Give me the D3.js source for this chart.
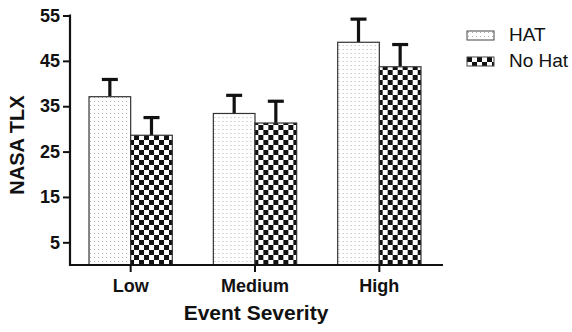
<!DOCTYPE html>
<html><head><meta charset="utf-8">
<script src="https://cdn.jsdelivr.net/npm/d3@7"></script>
<style>body{margin:0;background:#fff}svg{display:block}</style>
</head><body>
<svg id="c" width="572" height="332"></svg>
<script>
const categories = ["Low", "Medium", "High"];
const series = ["HAT", "No Hat"];
const hatValues = [37.1, 33.4, 49.1];
const hatErrors = [3.8, 4.0, 5.1];
const noHatValues = [28.6, 31.3, 43.7];
const noHatErrors = [3.9, 4.8, 4.9];
const yTicks = [5, 15, 25, 35, 45, 55];

const svg = d3.select("#c");
const defs = svg.append("defs");
const dots = defs.append("pattern").attr("id","dots").attr("patternUnits","userSpaceOnUse")
  .attr("width",4).attr("height",4);
dots.append("rect").attr("width",4).attr("height",4).attr("fill","#fff");
dots.append("rect").attr("x",1).attr("y",1).attr("width",1).attr("height",1).attr("fill","#b0b0b0");
const chk = defs.append("pattern").attr("id","chk").attr("patternUnits","userSpaceOnUse")
  .attr("width",10).attr("height",10);
chk.append("rect").attr("width",10).attr("height",10).attr("fill","#fff");
chk.append("rect").attr("width",5).attr("height",5).attr("fill","#111");
chk.append("rect").attr("x",5).attr("y",5).attr("width",5).attr("height",5).attr("fill","#111");

const fills = {"HAT":"url(#dots)","No Hat":"url(#chk)"};
const data = categories.map((c,i)=>({cat:c, vals:[
  {s:"HAT", v:hatValues[i], e:hatErrors[i]},
  {s:"No Hat", v:noHatValues[i], e:noHatErrors[i]}]}));

const FONT = "Liberation Sans, Arial, sans-serif";
const axisX = 70, baseY = 265;
const y = d3.scaleLinear().domain([0,55]).range([265,15.5]);
const x0 = d3.scaleBand().domain(categories).range([68.5,441.5]).paddingInner(0.33).paddingOuter(0.165);
const x1 = d3.scaleBand().domain(series).range([0,x0.bandwidth()]);

const g = svg.append("g");
const groups = g.selectAll("g.grp").data(data).join("g").attr("transform",d=>`translate(${x0(d.cat)},0)`);
groups.selectAll("g.err").data(d=>d.vals).join("g").each(function(d){
  const cx = x1(d.s)+x1.bandwidth()/2;
  const s = d3.select(this);
  s.append("line").attr("x1",cx).attr("x2",cx).attr("y1",y(d.v)).attr("y2",y(d.v+d.e))
    .attr("stroke","#111").attr("stroke-width",3.2);
  s.append("line").attr("x1",cx-8).attr("x2",cx+8).attr("y1",y(d.v+d.e)).attr("y2",y(d.v+d.e))
    .attr("stroke","#111").attr("stroke-width",3.2);
});
groups.selectAll("rect").data(d=>d.vals).join("rect")
  .attr("x",d=>x1(d.s)).attr("width",x1.bandwidth())
  .attr("y",d=>y(d.v)).attr("height",d=>y(0)-y(d.v))
  .attr("fill",d=>fills[d.s]).attr("stroke","#333").attr("stroke-width",1.2);

const ya = svg.append("g").attr("transform",`translate(${axisX},0)`)
  .call(d3.axisLeft(y).tickValues(yTicks).tickSize(7).tickPadding(3).tickSizeOuter(0));
ya.select(".domain").remove();
ya.selectAll(".tick line").attr("stroke","#111").attr("stroke-width",2);
ya.selectAll("text").attr("font-family",FONT).attr("font-weight","bold")
  .attr("font-size",18).attr("fill","#111");
svg.append("line").attr("x1",axisX).attr("x2",axisX).attr("y1",14.5).attr("y2",baseY+1)
  .attr("stroke","#111").attr("stroke-width",2.2);

const xa = svg.append("g").attr("transform",`translate(0,${baseY})`)
  .call(d3.axisBottom(x0).tickSize(7).tickPadding(7));
xa.select(".domain").remove();
xa.selectAll(".tick line").attr("stroke","#111").attr("stroke-width",2);
xa.selectAll("text").attr("font-family",FONT).attr("font-weight","bold")
  .attr("font-size",18).attr("fill","#111");
svg.append("line").attr("x1",axisX-1).attr("x2",443).attr("y1",baseY).attr("y2",baseY)
  .attr("stroke","#111").attr("stroke-width",2.2);

svg.append("text").attr("x",256).attr("y",320).attr("text-anchor","middle")
  .attr("font-family",FONT).attr("font-weight","bold")
  .attr("font-size",21).attr("fill","#111").text("Event Severity");
svg.append("text").attr("transform","translate(24,145) rotate(-90)").attr("text-anchor","middle")
  .attr("font-family",FONT).attr("font-weight","bold")
  .attr("font-size",20).attr("fill","#111").text("NASA TLX");

const lg = svg.append("g").selectAll("g").data(series).join("g")
  .attr("transform",(d,i)=>`translate(467,${31+i*26})`);
lg.append("rect").attr("width",27).attr("height",9).attr("fill",d=>fills[d])
  .attr("stroke","#444").attr("stroke-width",1);
lg.append("text").attr("x",42).attr("y",10).attr("font-family",FONT)
  .attr("font-size",19).attr("fill","#111").text(d=>d);
</script>
</body></html>
